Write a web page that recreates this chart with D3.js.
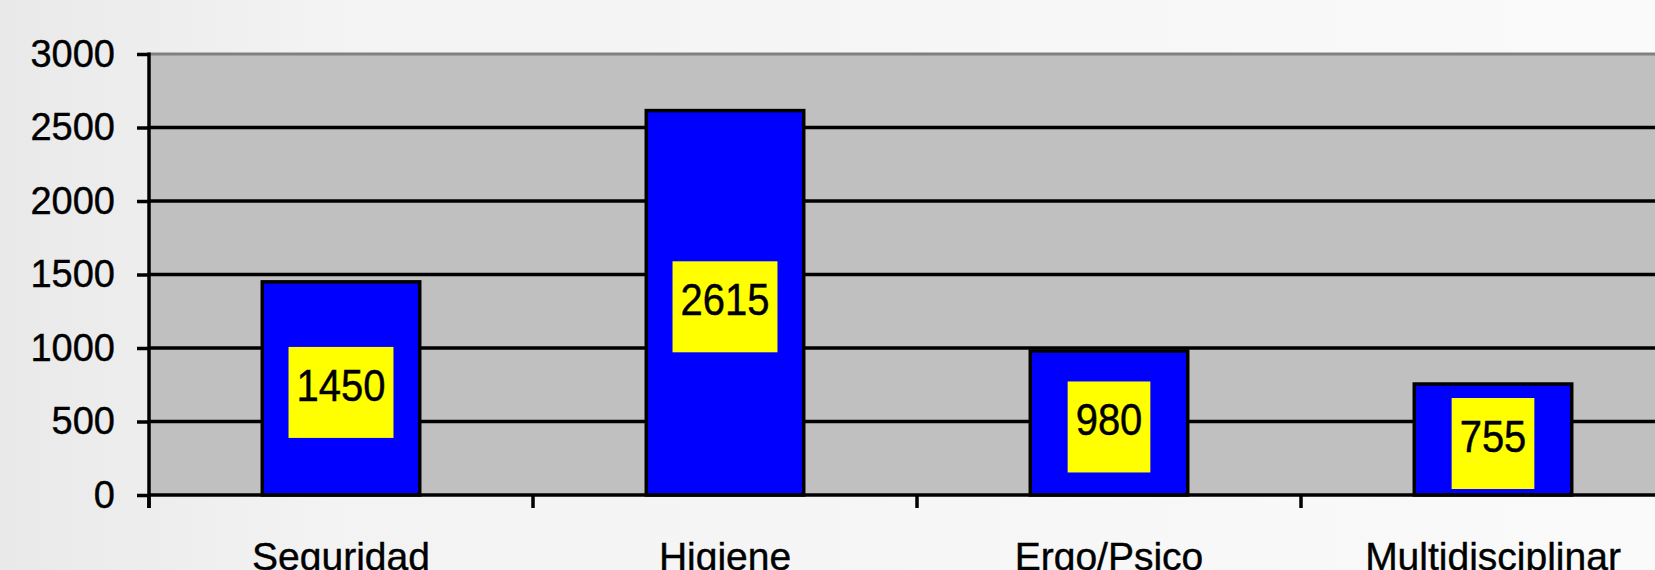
<!DOCTYPE html>
<html>
<head>
<meta charset="utf-8">
<script src="https://cdn.jsdelivr.net/npm/d3@7"></script>
<style>
  html, body { margin: 0; padding: 0; overflow: hidden; }
  svg { display: block; font-family: "Liberation Sans", Arial, sans-serif; }
</style>
</head>
<body>
<svg class="chart" width="1655" height="570"></svg>
<script>
/* chart values */
var categories = ["Seguridad", "Higiene", "Ergo/Psico", "Multidisciplinar"];
var values = [1450, 2615, 980, 755];
var yTicks = [0, 500, 1000, 1500, 2000, 2500, 3000];

var svg = d3.select(".chart"),
    margin = {top: 54, left: 149},
    step = 384,
    plotRight = margin.left + step * categories.length,
    plotBottom = 495,
    lineW = 3.5;

/* soft greyish background like the slide behind the chart */
var defs = svg.append("defs");
var grad = defs.append("linearGradient").attr("id", "bg").attr("x1", 0).attr("x2", 1);
grad.append("stop").attr("offset", "0").attr("stop-color", "#e9e9e9");
grad.append("stop").attr("offset", "0.2").attr("stop-color", "#f3f3f3");
grad.append("stop").attr("offset", "1").attr("stop-color", "#fafafa");
svg.append("rect").attr("width", 1655).attr("height", 570).attr("fill", "url(#bg)");

/* scales: bands for the categories, linear for the counts */
var xBand = d3.scaleBand().domain(categories)
    .range([margin.left, plotRight]).paddingInner(0.59).paddingOuter(0.295);
var xOuter = d3.scaleBand().domain(categories).range([margin.left, plotRight]);
var y = d3.scaleLinear().domain([0, 3000]).range([plotBottom, margin.top]);

/* plot area */
svg.append("rect")
    .attr("x", margin.left).attr("y", y(3000))
    .attr("width", plotRight - margin.left).attr("height", y(0) - y(3000))
    .attr("fill", "#c0c0c0");

/* grid lines */
svg.append("g").selectAll("line")
    .data(yTicks.filter(function(d) { return d > 0 && d < 3000; }))
    .enter().append("line")
      .attr("x1", margin.left).attr("x2", plotRight)
      .attr("y1", function(d) { return y(d); }).attr("y2", function(d) { return y(d); })
      .attr("stroke", "#000").attr("stroke-width", lineW);

svg.append("line")
    .attr("x1", margin.left).attr("x2", plotRight)
    .attr("y1", y(3000)).attr("y2", y(3000))
    .attr("stroke", "#808080").attr("stroke-width", 3);

/* bars */
svg.append("g").selectAll("rect")
    .data(values)
    .enter().append("rect")
      .attr("x", function(d, i) { return xBand(categories[i]); })
      .attr("y", function(d) { return y(d); })
      .attr("width", xBand.bandwidth())
      .attr("height", function(d) { return y(0) - y(d); })
      .attr("fill", "#0000ff")
      .attr("stroke", "#000").attr("stroke-width", lineW);

/* y axis */
var yAxis = svg.append("g")
    .attr("transform", "translate(" + margin.left + ",0)")
    .call(d3.axisLeft(y).tickValues(yTicks).tickFormat(d3.format("d")).tickSize(12).tickPadding(22));
yAxis.select(".domain").remove();
yAxis.selectAll(".tick line").attr("stroke", "#000").attr("stroke-width", lineW);
yAxis.selectAll(".tick text").attr("font-size", 38).attr("fill", "#000")
    .attr("stroke", "#000").attr("stroke-width", 0.4)
    .attr("font-family", "Liberation Sans, Arial, sans-serif");
svg.append("line")
    .attr("x1", margin.left).attr("x2", margin.left)
    .attr("y1", y(3000) - 1.5).attr("y2", y(0) + 13)
    .attr("stroke", "#000").attr("stroke-width", lineW);

/* x axis: baseline, boundary ticks and category names */
svg.append("line")
    .attr("x1", margin.left).attr("x2", plotRight)
    .attr("y1", y(0)).attr("y2", y(0))
    .attr("stroke", "#000").attr("stroke-width", lineW);
svg.append("g").selectAll("line")
    .data(categories)
    .enter().append("line")
      .attr("x1", function(d) { return xOuter(d); }).attr("x2", function(d) { return xOuter(d); })
      .attr("y1", y(0)).attr("y2", y(0) + 13)
      .attr("stroke", "#000").attr("stroke-width", lineW);

var xAxis = svg.append("g")
    .attr("transform", "translate(0," + y(0) + ")")
    .call(d3.axisBottom(xOuter).tickSize(0).tickPadding(0));
xAxis.select(".domain").remove();
xAxis.selectAll(".tick text")
    .attr("font-size", 39).attr("fill", "#000")
    .attr("stroke", "#000").attr("stroke-width", 0.4)
    .attr("font-family", "Liberation Sans, Arial, sans-serif")
    .attr("dy", 0).attr("y", 75);

/* yellow value boxes inside the bars */
var lbl = svg.append("g").selectAll("g")
    .data(values)
    .enter().append("g")
      .attr("transform", function(d, i) {
        var cx = xBand(categories[i]) + xBand.bandwidth() / 2;
        var cy = (y(d) + y(0)) / 2;
        return "translate(" + cx + "," + cy + ")";
      });

var box = lbl.append("rect").attr("fill", "#ffff00");

var txt = lbl.append("text")
    .attr("text-anchor", "middle")
    .attr("font-size", 40)
    .attr("fill", "#000")
    .attr("stroke", "#000").attr("stroke-width", 0.4)
    .attr("transform", "translate(0,-4) scale(1,1.13)")
    .attr("dy", "0.36em")
    .text(function(d) { return d; });

txt.each(function(d, i) {
  var w = this.getComputedTextLength() + 16;
  d3.select(box.nodes()[i])
    .attr("x", -w / 2).attr("width", w)
    .attr("y", 4 - 45.5).attr("height", 91);
});
</script>
</body>
</html>
